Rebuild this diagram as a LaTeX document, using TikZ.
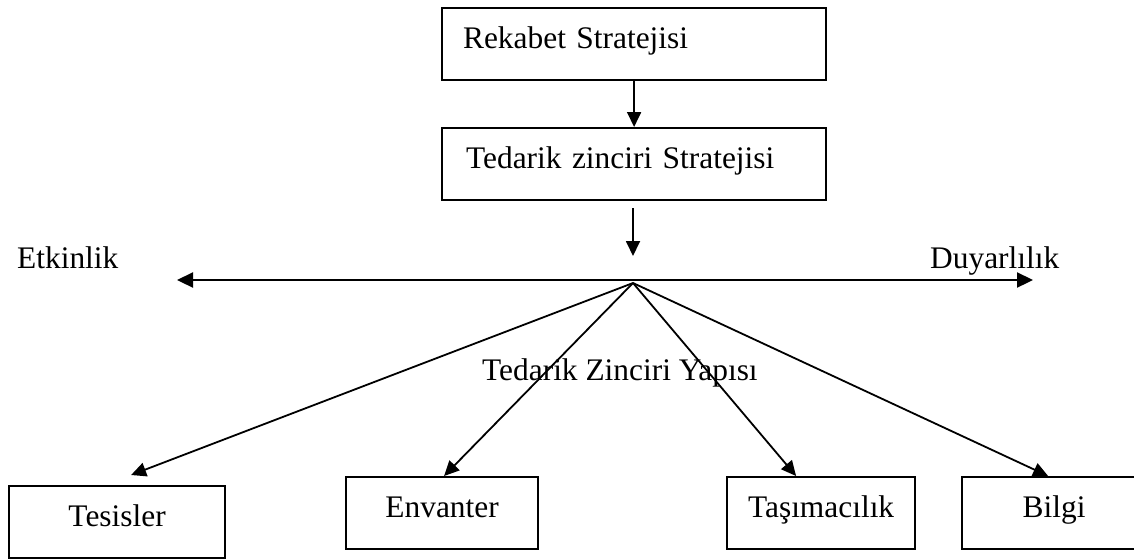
\documentclass[tikz,border=0pt]{standalone}
\usepackage{fontspec}
\setmainfont{Liberation Serif}
\usetikzlibrary{arrows.meta}
\begin{document}
\begin{tikzpicture}[x=1pt,y=-1pt,
  every node/.style={font=\fontsize{31.4}{38}\selectfont},
  box/.style={draw,line width=2.2pt,minimum height=72pt,inner ysep=0pt,
    text height=20pt,text depth=11pt,anchor=north west},
  lbox/.style={box,align=left},
  cbox/.style={box,align=center,inner xsep=0pt},
  link/.style={line width=1.8pt,-{Triangle[length=15pt,width=14pt]}},
  axis/.style={line width=2.2pt,{Triangle[length=16pt,width=15pt]}-{Triangle[length=16pt,width=15pt]}},
  word/.style={anchor=base west,inner sep=0pt}]
\clip (0,0) rectangle (1134,558);
\fill[white] (0,0) rectangle (1134,558);

% strategy boxes
\node[lbox,inner xsep=21pt,text width=342pt,minimum width=384pt] (rek) at (441,7) {Rekabet Stratejisi};
\node[lbox,inner xsep=24pt,text width=336pt,minimum width=384pt] (ted) at (441,127) {Tedarik zinciri Stratejisi};
\draw[link] (rek.south) -- (ted.north);

% efficiency / responsiveness axis
\coordinate (dropA) at (633,208);
\coordinate (dropB) at (633,256);
\coordinate (axL) at (177,280);
\coordinate (axR) at (1033,280);
\coordinate (hub) at (633,283);
\draw[link] (dropA) -- (dropB);
\draw[axis] (axL) -- (axR);
\node[word] (eff) at (17,268) {Etkinlik};
\node[word] (res) at (930,268) {Duyarlılık};
\node[word] (str) at (482,380) {Tedarik Zinciri Yapısı};

% supply chain drivers
\node[cbox,text width=216pt,minimum width=216pt] (tes) at (8,485) {Tesisler};
\node[cbox,text width=192pt,minimum width=192pt] (env) at (345,476) {Envanter};
\node[cbox,text width=188pt,minimum width=188pt] (tas) at (726,476) {Taşımacılık};
\node[cbox,text width=184pt,minimum width=184pt] (bil) at (961,476) {Bilgi};

\draw[link] (hub) -- ([xshift=14pt,yshift=10pt]tes.north);
\draw[link] (hub) -- ([xshift=2pt]env.north);
\draw[link] (hub) -- ([xshift=-25pt]tas.north);
\draw[link] (hub) -- ([xshift=-6pt]bil.north);
\end{tikzpicture}
\end{document}
